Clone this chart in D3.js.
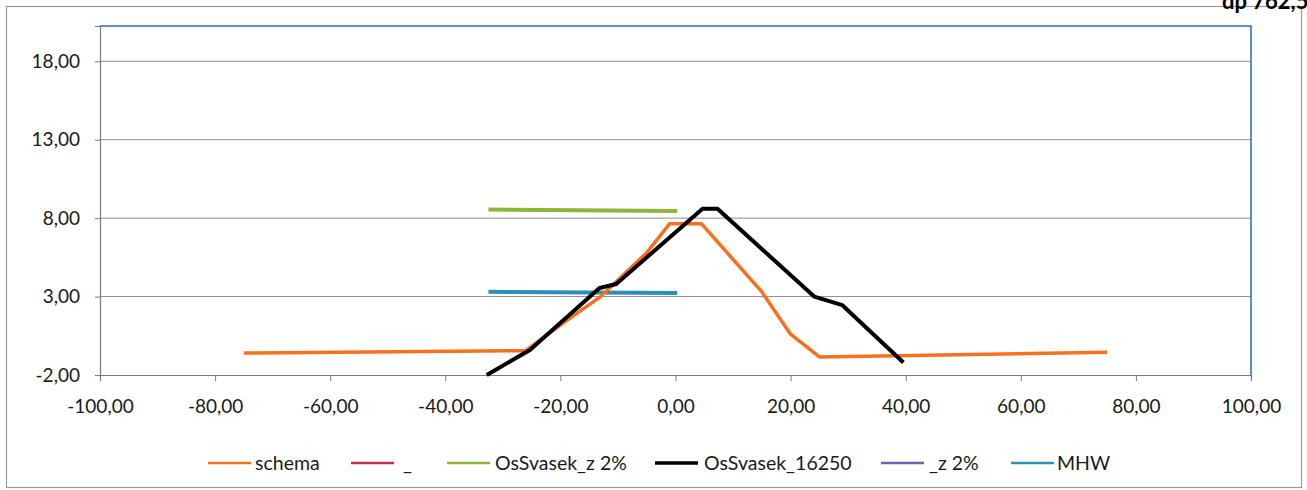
<!DOCTYPE html>
<html><head><meta charset="utf-8">
<script src="https://cdn.jsdelivr.net/npm/d3@7"></script>
<style>body{margin:0;background:#fff;} svg{display:block;font-family:Lato,"Open Sans",sans-serif;}</style>
</head><body>
<svg id="c" width="1307" height="490"></svg>
<script>
const xTicks = [-100,-80,-60,-40,-20,0,20,40,60,80,100];
const yTicks = [-2,3,8,13,18];
const schemaX = [-75,-26,-19.6,-13,-5,-1,4.5,15,20,25,75];
const schemaY = [-0.6,-0.45,1.3,3.0,5.8,7.65,7.65,3.3,0.6,-0.85,-0.55];
const svasekX = [-32.8,-25.3,-13.2,-10.3,4.7,7.3,24.1,29.0,39.6];
const svasekY = [-2.0,-0.4,3.55,3.8,8.6,8.6,3.0,2.45,-1.2];
const greenX = [-32.5,0.3];
const greenY = [8.55,8.45];
const mhwX = [-32.5,0.3];
const mhwY = [3.3,3.22];
const legendNames = ["schema","_","OsSvasek_z 2%","OsSvasek_16250","_z 2%","MHW"];
const legendColors = ["#f6701f","#c0304d","#8db53c","#000000","#6f5fb0","#2b8fb8"];

const svg = d3.select("#c");
const L=100,R=1251,T=26,B=375;
const x = d3.scaleLinear().domain([-100,100]).range([L,R]);
const y = d3.scaleLinear().domain([-2,20.25]).range([B,T]);

// outer frame
svg.append("rect").attr("x",6.5).attr("y",6.5).attr("width",1295).attr("height",481)
  .attr("fill","none").attr("stroke","#9a9a9a").attr("stroke-width",1.2);

// top-right label (cut off at the top edge, as in the scanned source)
svg.append("text").attr("x",1222).attr("y",9).attr("font-weight","bold").attr("font-size",22)
  .attr("fill","#000").text("dp 762,5");

// gridlines
svg.append("g").selectAll("line").data(yTicks.filter(d=>d!==-2)).join("line")
  .attr("x1",L).attr("x2",R).attr("y1",d=>y(d)).attr("y2",d=>y(d))
  .attr("stroke","#8c8c8c").attr("stroke-width",1);

// plot border blue (top,right)
svg.append("path").attr("d",`M${L},${T}H${R}V${B}`).attr("fill","none").attr("stroke","#2e62d0").attr("stroke-width",1.5);

// axes
const fmt = d => d3.format(".2f")(d).replace(".",",").replace("−","-");
const yAxis = d3.axisLeft(y).tickValues(yTicks).tickFormat(fmt).tickSize(5).tickPadding(15);
const gy = svg.append("g").attr("transform",`translate(${L},0)`).call(yAxis);
const xAxis = d3.axisBottom(x).tickValues(xTicks).tickFormat(fmt).tickSize(6).tickPadding(19);
const gx = svg.append("g").attr("transform",`translate(0,${B})`).call(xAxis);
[gx,gy].forEach(g=>{
  g.select(".domain").attr("stroke","#7a7a7a").attr("stroke-width",1.2);
  g.selectAll(".tick line").attr("stroke","#7a7a7a");
  g.selectAll("text").attr("font-size",19).attr("fill","#1a1a1a").attr("font-family","Lato,'Open Sans',sans-serif");
});

const line = d3.line().x(d=>x(d[0])).y(d=>y(d[1]));
const zip = (a,b)=>a.map((v,i)=>[v,b[i]]);
svg.append("path").datum(zip(greenX,greenY)).attr("d",line).attr("fill","none").attr("stroke",legendColors[2]).attr("stroke-width",4);
svg.append("path").datum(zip(mhwX,mhwY)).attr("d",line).attr("fill","none").attr("stroke",legendColors[5]).attr("stroke-width",4);
svg.append("path").datum(zip(schemaX,schemaY)).attr("d",line).attr("fill","none").attr("stroke",legendColors[0]).attr("stroke-width",3.5).attr("stroke-linejoin","round");
svg.append("path").datum(zip(svasekX,svasekY)).attr("d",line).attr("fill","none").attr("stroke",legendColors[3]).attr("stroke-width",4).attr("stroke-linejoin","round");

// legend
const legX = [208,351,447,655,881,1011];
const txtX = [255,403,495,704,929,1057];
const lg = svg.append("g");
legendNames.forEach((n,i)=>{
  lg.append("line").attr("x1",legX[i]).attr("x2",legX[i]+43).attr("y1",463).attr("y2",463)
    .attr("stroke",legendColors[i]).attr("stroke-width",i===3?3.5:2.5);
  lg.append("text").attr("x",txtX[i]).attr("y",470).attr("font-size",19.5).attr("fill","#1a1a1a").text(n);
});
</script>
</body></html>
